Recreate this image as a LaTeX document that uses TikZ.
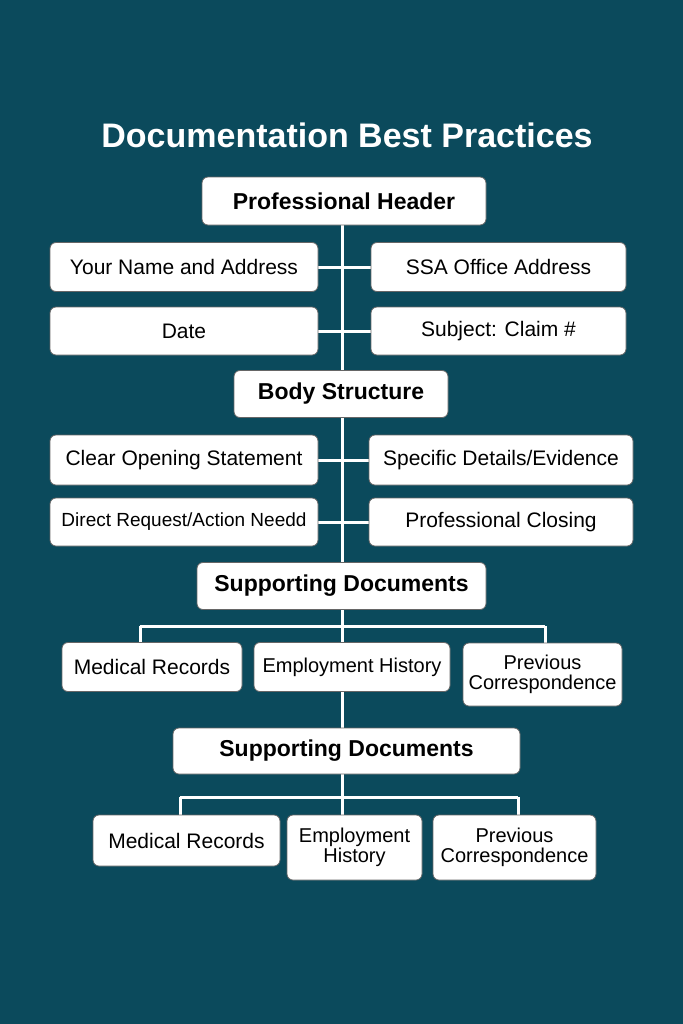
\documentclass[tikz,border=0pt]{standalone}
\usepackage{fontspec}
\setmainfont{Liberation Sans}
\usetikzlibrary{positioning}
\definecolor{tealbg}{HTML}{0B4A5C}
\pgfdeclarelayer{bg}
\pgfdeclarelayer{lines}
\pgfsetlayers{bg,lines,main}

\begin{document}
\begin{tikzpicture}[x=0.5pt,y=-0.5pt,
    box/.style={draw=black!60,line width=0.4pt,fill=white,rounded corners=3pt,
                font=\fontsize{10.5}{11.5}\selectfont,align=center,inner sep=0pt},
    head/.style={box,font=\fontsize{11.5}{13}\selectfont\bfseries},
    wire/.style={draw=white,line width=1.5pt}]
    \begin{pgfonlayer}{bg}
    \fill[tealbg] (0,0) rectangle (683,1024);
    \end{pgfonlayer}
    \useasboundingbox (0,0) rectangle (683,1024);

    \node[white,font=\fontsize{17}{20}\selectfont\bfseries] (title) at (347,135) {Documentation Best Practices};

    \node[head,minimum width=142pt,minimum height=24pt] (hdr)  at (344,201) {Professional Header};
    \node[box,minimum width=134pt,minimum height=24.5pt] (name) at (184,267) {Your Name and Address};
    \node[box,minimum width=127.5pt,minimum height=24.5pt] (ssa) at (498.5,267) {SSA Office Address};
    \node[box,minimum width=134pt,minimum height=24pt] (date) at (184,331) {Date};
    \node[box,minimum width=127.5pt,minimum height=24pt] (subj) at (498.5,331) {Subject: Claim \#};

    \node[head,minimum width=107pt,minimum height=23.5pt] (body) at (341,394) {Body Structure};
    \node[box,minimum width=134pt,minimum height=25pt] (open) at (184,460) {Clear Opening Statement};
    \node[box,minimum width=132pt,minimum height=25pt] (spec) at (501,460) {Specific Details/Evidence};
    \node[box,minimum width=134pt,minimum height=24pt,font=\fontsize{9.5}{11}\selectfont] (req) at (184,522) {Direct Request/Action Needd};
    \node[box,minimum width=132pt,minimum height=24pt] (close) at (501,522) {Professional Closing};

    \node[head,minimum width=144.5pt,minimum height=23.5pt] (supa) at (341.5,586) {Supporting Documents};
    \node[box,minimum width=90pt,minimum height=24.5pt] (meda) at (152,667) {Medical Records};
    \node[box,minimum width=98pt,minimum height=24.5pt,font=\fontsize{10}{11}\selectfont] (empa) at (352,667) {Employment History};
    \node[box,minimum width=79.5pt,minimum height=31.5pt,font=\fontsize{10}{10}\selectfont] (preva) at (542.5,674.5) {Previous\\Correspondence};

    \node[head,minimum width=173.5pt,minimum height=23pt] (supb) at (346.5,751) {Supporting Documents};
    \node[box,minimum width=93.5pt,minimum height=25.5pt] (medb) at (186.5,840.5) {Medical Records};
    \node[box,minimum width=67.5pt,minimum height=32.5pt,font=\fontsize{10}{10}\selectfont] (empb) at (354.5,847.5) {Employment\\History};
    \node[box,minimum width=81.5pt,minimum height=32.5pt,font=\fontsize{10}{10}\selectfont] (prevb) at (514.5,847.5) {Previous\\Correspondence};

    \begin{pgfonlayer}{lines}
    \draw[wire] (342,225) -- (342,728);
    \draw[wire] (name.east) -- (ssa.west);
    \draw[wire] (date.east) -- (subj.west);
    \draw[wire] (open.east) -- (spec.west);
    \draw[wire] (req.east) -- (close.west);
    \coordinate (ja) at (342,626);
    \draw[wire] (ja -| 140,0) -- (ja -| 545,0);
    \draw[wire] (140,626) -- (140,643);
    \draw[wire] (545,626) -- (545,643);
    \coordinate (jb) at (342,797);
    \draw[wire] (supb.south -| 342,0) -- (jb);
    \draw[wire] (jb -| 180,0) -- (jb -| 518,0);
    \draw[wire] (180,797) -- (medb.north -| 180,0);
    \draw[wire] (342,797) -- (empb.north -| 342,0);
    \draw[wire] (518,797) -- (prevb.north -| 518,0);
    \end{pgfonlayer}
\end{tikzpicture}
\end{document}
